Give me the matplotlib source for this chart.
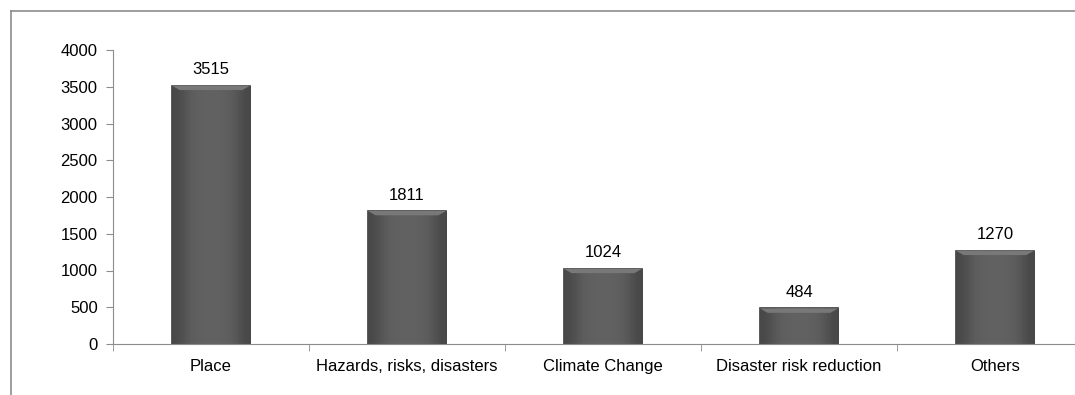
import matplotlib.pyplot as plt
import numpy as np

categories = ["Place", "Hazards, risks, disasters", "Climate Change",
              "Disaster risk reduction", "Others"]
counts = [3515, 1811, 1024, 484, 1270]
yticks = [0, 500, 1000, 1500, 2000, 2500, 3000, 3500, 4000]

plt.rcParams["font.family"] = ["Liberation Sans", "DejaVu Sans"]
plt.rcParams["font.size"] = 12

fig = plt.figure(figsize=(10.75, 3.95), dpi=100)
# chart area frame (only top and left edges fall inside the image)
fig.add_artist(plt.Line2D([11 / 1075, 1.0], [1 - 11 / 395, 1 - 11 / 395],
                          transform=fig.transFigure, color="#8c8c8c", lw=1.2))
fig.add_artist(plt.Line2D([11 / 1075, 11 / 1075], [0.0, 1 - 11 / 395],
                          transform=fig.transFigure, color="#8c8c8c", lw=1.2))

ax = fig.add_axes([113 / 1075, 1 - 344 / 395, 980 / 1075, 294 / 395])
x = np.arange(len(categories))
bars = ax.bar(x, counts, width=0.40, color="#5a5a5a", edgecolor="#3c3c3c",
              linewidth=1.2, zorder=2)

# soft horizontal shading on each bar
shade = np.array([[0.28, 0.36, 0.38, 0.38, 0.38, 0.36, 0.28]])
for b in bars:
    x0, w, h = b.get_x(), b.get_width(), b.get_height()
    im = ax.imshow(shade, cmap="gray", vmin=0, vmax=1, aspect="auto",
                   extent=[x0, x0 + w, 0, h], zorder=2.5, interpolation="bicubic")
    im.set_clip_path(b)
    # lighter bevel along the top
    ax.fill([x0, x0 + w, x0 + w * 0.9, x0 + w * 0.1],
            [h, h, h - 60, h - 60], color="#787878", zorder=2.6, lw=0)

for xi, v in zip(x, counts):
    ax.annotate(str(v), (xi, v), xytext=(0, 6), textcoords="offset points",
                ha="center", va="bottom")

ax.set_xlim(-0.5, len(categories) - 0.5)
ax.set_ylim(0, 4000)
ax.set_yticks(yticks)
ax.set_xticks(x)
ax.set_xticklabels(categories)
ax.set_xticks(np.arange(len(categories) + 1) - 0.5, minor=True)
ax.tick_params(axis="x", which="major", length=0, pad=11)
ax.tick_params(axis="x", which="minor", length=5, color="#8c8c8c")
ax.tick_params(axis="y", length=5, color="#8c8c8c", pad=6)
for s in ["top", "right"]:
    ax.spines[s].set_visible(False)
for s in ["left", "bottom"]:
    ax.spines[s].set_color("#8c8c8c")

fig.savefig("out.png", dpi=100)
